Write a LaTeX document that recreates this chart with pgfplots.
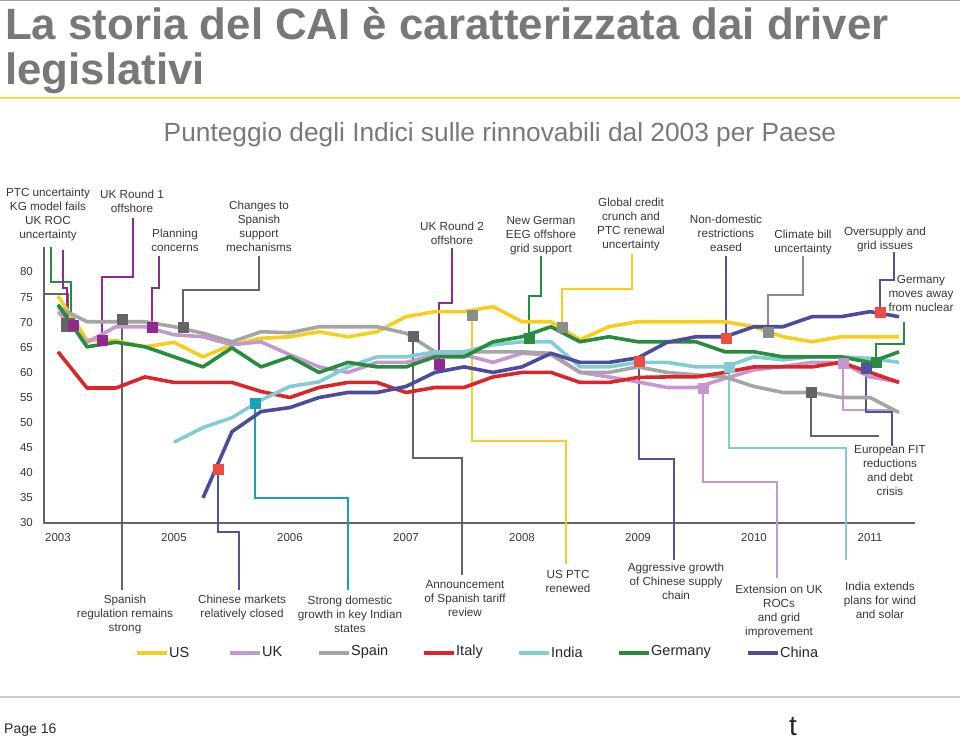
\documentclass[border=0pt]{standalone}
\usepackage{pgfplots}
\pgfplotsset{compat=1.18}
\usepackage{fontspec}
\setmainfont{Liberation Sans}
\definecolor{cUS}{RGB}{246,206,30}
\definecolor{cUK}{RGB}{196,152,206}
\definecolor{cES}{RGB}{165,165,165}
\definecolor{cIT}{RGB}{222,36,40}
\definecolor{cIN}{RGB}{128,206,212}
\definecolor{cDE}{RGB}{40,140,62}
\definecolor{cCN}{RGB}{76,76,156}
\definecolor{cDG}{RGB}{100,100,100}
\definecolor{cGr}{RGB}{140,140,140}
\definecolor{cPu}{RGB}{142,42,145}
\definecolor{cTe}{RGB}{26,160,182}
\definecolor{cRd}{RGB}{240,76,62}
\definecolor{cBl}{RGB}{80,84,156}
\definecolor{cTitle}{RGB}{120,120,120}
\definecolor{cTxt}{RGB}{55,55,55}
\definecolor{cLine}{RGB}{242,224,60}
\newcommand{\ann}{\fontsize{11.7}{14}\selectfont}
\begin{document}
\begin{tikzpicture}
\path[use as bounding box] (0pt,0pt) rectangle (960pt,-742pt);
\begin{scope}[x=1pt,y=-1pt]
% header
\draw[line width=1pt, black!35] (0,0.5) -- (960,0.5);
\node[anchor=base west, inner sep=0, text=cTitle, font=\fontsize{43.8}{48}\selectfont\bfseries] at (5,39) {La storia del CAI è caratterizzata dai driver};
\node[anchor=base west, inner sep=0, text=cTitle, font=\fontsize{43.8}{48}\selectfont\bfseries] at (5,84) {legislativi};
\draw[line width=2.2pt, cLine] (0,98) -- (960,98);
\node[anchor=base, inner sep=0, text=cTitle, font=\fontsize{26.3}{30}\selectfont] at (500,141) {Punteggio degli Indici sulle rinnovabili dal 2003 per Paese};
% connectors
\begin{scope}[line width=1.6pt]
\draw[cDG] (44,247) -- (44,523);
\draw[cDG] (44,294) -- (68,294) -- (68,320);
\draw[cDE] (51,247) -- (51,282) -- (71,282) -- (71,318);
\draw[cPu] (63,250) -- (63,288) -- (67,288) -- (67,318);
\draw[cDG] (43,523) -- (915,523);
\draw[cPu] (133,218) -- (133,277) -- (102,277) -- (102,340);
\draw[cPu] (159,256) -- (159,288) -- (152,288) -- (152,327);
\draw[cDG] (259,256) -- (259,290) -- (183,290) -- (183,327);
\draw[cDG] (122,319) -- (122,590);
\draw[cBl] (218,469) -- (218,532) -- (239,532) -- (239,590);
\draw[cTe] (255,403) -- (255,498) -- (348,498) -- (348,590);
\draw[cDG] (413,336) -- (413,458) -- (462,458) -- (462,575);
\draw[cPu] (452,248) -- (452,303) -- (439,303) -- (439,364);
\draw[cUS] (472,315) -- (472,441) -- (566,441) -- (566,564);
\draw[cDE] (541,256) -- (541,296) -- (529,296) -- (529,338);
\draw[cUS] (632,254) -- (632,289) -- (562,289) -- (562,327);
\draw[cBl] (639,361) -- (639,459) -- (674,459) -- (674,560);
\draw[cBl] (726,256) -- (726,338);
\draw[cUK] (703,388) -- (703,482) -- (777,482) -- (777,578);
\draw[cGr] (803,256) -- (803,295) -- (768,295) -- (768,332);
\draw[cIN] (729,367) -- (729,448) -- (846,448) -- (846,560);
\draw[cDG] (811,392) -- (811,436) -- (879,436);
\draw[cUK] (843,363) -- (843,410) -- (892,410);
\draw[cBl] (866,368) -- (866,412) -- (892,412) -- (892,446);
\draw[cBl] (894,252) -- (894,280) -- (880,280) -- (880,312);
\draw[cDE] (904,322) -- (904,344) -- (876,344) -- (876,362);
\end{scope}
% annotations
\begin{scope}[every node/.style={align=center, inner sep=0, text=cTxt, font=\ann}]
\node at (48,214) {PTC uncertainty\\KG model fails\\UK ROC\\uncertainty};
\node at (132,201) {UK Round 1\\offshore};
\node at (175,240) {Planning\\concerns};
\node at (259,226) {Changes to\\Spanish\\support\\mechanisms};
\node at (452,233) {UK Round 2\\offshore};
\node at (541,236) {New German\\EEG offshore\\grid support};
\node at (631,224) {Global credit\\crunch and\\PTC renewal\\uncertainty};
\node at (726,233) {Non-domestic\\restrictions\\eased};
\node at (803,242) {Climate bill\\uncertainty};
\node at (885,239) {Oversupply and\\grid issues};
\node at (921,293) {Germany\\moves away\\from nuclear};
\node at (890,471) {European FIT\\reductions\\and debt\\crisis};
\node at (125,614) {Spanish\\regulation remains\\strong};
\node at (242,607) {Chinese markets\\relatively closed};
\node at (350,614) {Strong domestic\\growth in key Indian\\states};
\node at (465,599) {Announcement\\of Spanish tariff\\review};
\node at (568,581) {US PTC\\renewed};
\node at (676,581) {Aggressive growth\\of Chinese supply\\chain};
\node at (779,611) {Extension on UK\\ROCs\\and grid\\improvement};
\node at (880,600) {India extends\\plans for wind\\and solar};
\end{scope}
% legend
\begin{scope}[line width=4pt]
\draw[cUS] (137,653) -- (167,653);
\draw[cUK] (230,653) -- (260,653);
\draw[cES] (319,653) -- (349,653);
\draw[cIT] (424,653) -- (454,653);
\draw[cIN] (519,653) -- (549,653);
\draw[cDE] (619,653) -- (649,653);
\draw[cCN] (748,653) -- (778,653);
\end{scope}
\begin{scope}[every node/.style={anchor=west, inner sep=0, text=black!85, font=\fontsize{14.5}{16}\selectfont}]
\node at (169,652) {US};
\node at (262,652) {UK};
\node at (351,652) {Spain};
\node at (456,652) {Italy};
\node at (551,652) {India};
\node at (651,652) {Germany};
\node at (780,652) {China};
\end{scope}
% footer
\draw[line width=1.5pt, black!20] (0,697) -- (960,697);
\node[anchor=west, inner sep=0, font=\fontsize{14}{16}\selectfont, text=black!85] at (4,730) {Page 16};
\node[inner sep=0, font=\fontsize{28}{30}\selectfont, text=black!85] at (793,727) {t};
\end{scope}
\begin{axis}[
 at={(43pt,-523pt)}, anchor=south west,
 x=29pt, y=5.02pt,
 xmin=-0.5172, xmax=29.55, ymin=30, ymax=80,
 enlargelimits=false, clip=false,
 axis line style={draw=none},
 major tick length=0pt,
 xtick={0,4,8,12,16,20,24,28},
 xticklabels={2003,2005,2006,2007,2008,2009,2010,2011},
 ytick={30,35,...,80},
 tick label style={font=\fontsize{11.5}{12}\selectfont, text=cTxt},
 /pgf/number format/assume math mode=true,
 xticklabel style={anchor=base, yshift=-18pt},
 yticklabel style={anchor=east, inner sep=0pt, xshift=-10pt},
 every axis plot/.append style={line join=round},
]
\pgfplotsset{ln/.style={#1, no markers, line width=3.6pt}, mk/.style={#1, only marks, mark=square*, line width=0.3pt, mark options={solid, draw=#1, fill=#1}}}
\addplot[ln=cUS] coordinates {(0,75.2)(1,66.5)(2,66.3)(3,65.1)(4,66.0)(5,63.1)(6,65.5)(7,66.8)(8,67.1)(9,68.1)(10,67.1)(11,68.1)(12,71.1)(13,72.1)(14,72.1)(15,73.1)(16,70.1)(17,70.1)(18,66.5)(19,69.1)(20,70.1)(21,70.1)(22,70.1)(23,70.1)(24,69.1)(25,67.1)(26,66.1)(27,67.1)(28,67.1)(29,67.1)};
\addplot[ln=cUK] coordinates {(0,72.1)(1,66.0)(2,69.1)(3,69.1)(4,67.5)(5,67.1)(6,65.5)(7,66.1)(8,63.5)(9,61.1)(10,60.0)(11,62.0)(12,62.0)(13,63.5)(14,63.5)(15,62.0)(16,63.8)(17,63.5)(18,60.0)(19,59.1)(20,58.1)(21,57.0)(22,57.0)(23,58.8)(24,60.5)(25,61.2)(26,62.0)(27,62.0)(28,59.1)(29,58.1)};
\addplot[ln=cES] coordinates {(0,73.0)(1,70.1)(2,70.1)(3,70.1)(4,69.1)(5,67.8)(6,66.1)(7,68.1)(8,67.9)(9,69.1)(10,69.1)(11,69.1)(12,67.8)(13,64.1)(14,64.1)(15,64.1)(16,64.1)(17,63.8)(18,60.0)(19,60.0)(20,61.1)(21,60.0)(22,59.5)(23,59.1)(24,57.2)(25,56.0)(26,56.0)(27,55.0)(28,55.0)(29,52.0)};
\addplot[ln=cIT] coordinates {(0,64.1)(1,56.9)(2,56.9)(3,59.1)(4,58.0)(5,58.0)(6,58.0)(7,56.2)(8,55.0)(9,57.0)(10,58.0)(11,58.0)(12,56.0)(13,57.0)(14,57.0)(15,59.1)(16,60.0)(17,60.0)(18,58.0)(19,58.0)(20,59.0)(21,59.1)(22,59.1)(23,60.0)(24,61.1)(25,61.1)(26,61.1)(27,62.0)(28,60.0)(29,58.0)};
\addplot[ln=cIN] coordinates {(4,46.1)(5,49.0)(6,51.0)(7,54.5)(8,57.2)(9,58.1)(10,61.1)(11,63.1)(12,63.1)(13,64.1)(14,64.1)(15,65.5)(16,66.1)(17,66.1)(18,61.1)(19,61.1)(20,62.0)(21,62.0)(22,61.1)(23,61.1)(24,63.1)(25,62.5)(26,63.1)(27,63.1)(28,62.8)(29,62.0)};
\addplot[ln=cDE] coordinates {(0,73.5)(1,65.1)(2,66.0)(3,65.1)(4,63.1)(5,61.1)(6,64.9)(7,61.1)(8,63.1)(9,60.0)(10,62.0)(11,61.1)(12,61.1)(13,63.1)(14,63.1)(15,66.1)(16,67.1)(17,69.1)(18,66.1)(19,67.1)(20,66.1)(21,66.1)(22,66.1)(23,64.1)(24,64.1)(25,63.1)(26,63.1)(27,63.1)(28,62.0)(29,64.1)};
\addplot[ln=cCN] coordinates {(5,35.0)(6,48.2)(7,52.2)(8,53.0)(9,55.0)(10,56.0)(11,56.0)(12,57.2)(13,60.0)(14,61.1)(15,60.0)(16,61.1)(17,63.8)(18,62.0)(19,62.0)(20,62.9)(21,66.0)(22,67.1)(23,67.1)(24,69.1)(25,69.1)(26,71.1)(27,71.1)(28,72.1)(29,71.1)};
% event markers
\addplot[mk=cDG, mark size=6.5pt] coordinates {(0.345,69.44)};
\addplot[mk=cPu, mark size=5.3pt] coordinates {(0.517,69.44)};
\addplot[mk=cPu, mark size=4.8pt] coordinates {(1.517,66.45)(3.241,69.04)(13.138,61.67)};
\addplot[mk=cDG, mark size=4.8pt] coordinates {(2.207,70.64)(4.310,69.04)(12.241,67.25)(25.966,56.10)};
\addplot[mk=cGr, mark size=4.8pt] coordinates {(14.276,71.43)(17.379,69.04)(24.483,68.05)};
\addplot[mk=cRd, mark size=4.8pt] coordinates {(5.517,40.76)(20.034,62.27)(23.034,66.85)(28.345,72.03)};
\addplot[mk=cTe, mark size=4.8pt] coordinates {(6.793,53.90)};
\addplot[mk=cDE, mark size=4.8pt] coordinates {(16.241,66.85)(28.207,62.07)};
\addplot[mk=cUK, mark size=4.8pt] coordinates {(22.241,56.89)(27.069,61.87)};
\addplot[mk=cIN, mark size=4.8pt] coordinates {(23.138,61.08)};
\addplot[mk=cBl, mark size=4.8pt] coordinates {(27.862,60.88)};
\end{axis}
\end{tikzpicture}
\end{document}
